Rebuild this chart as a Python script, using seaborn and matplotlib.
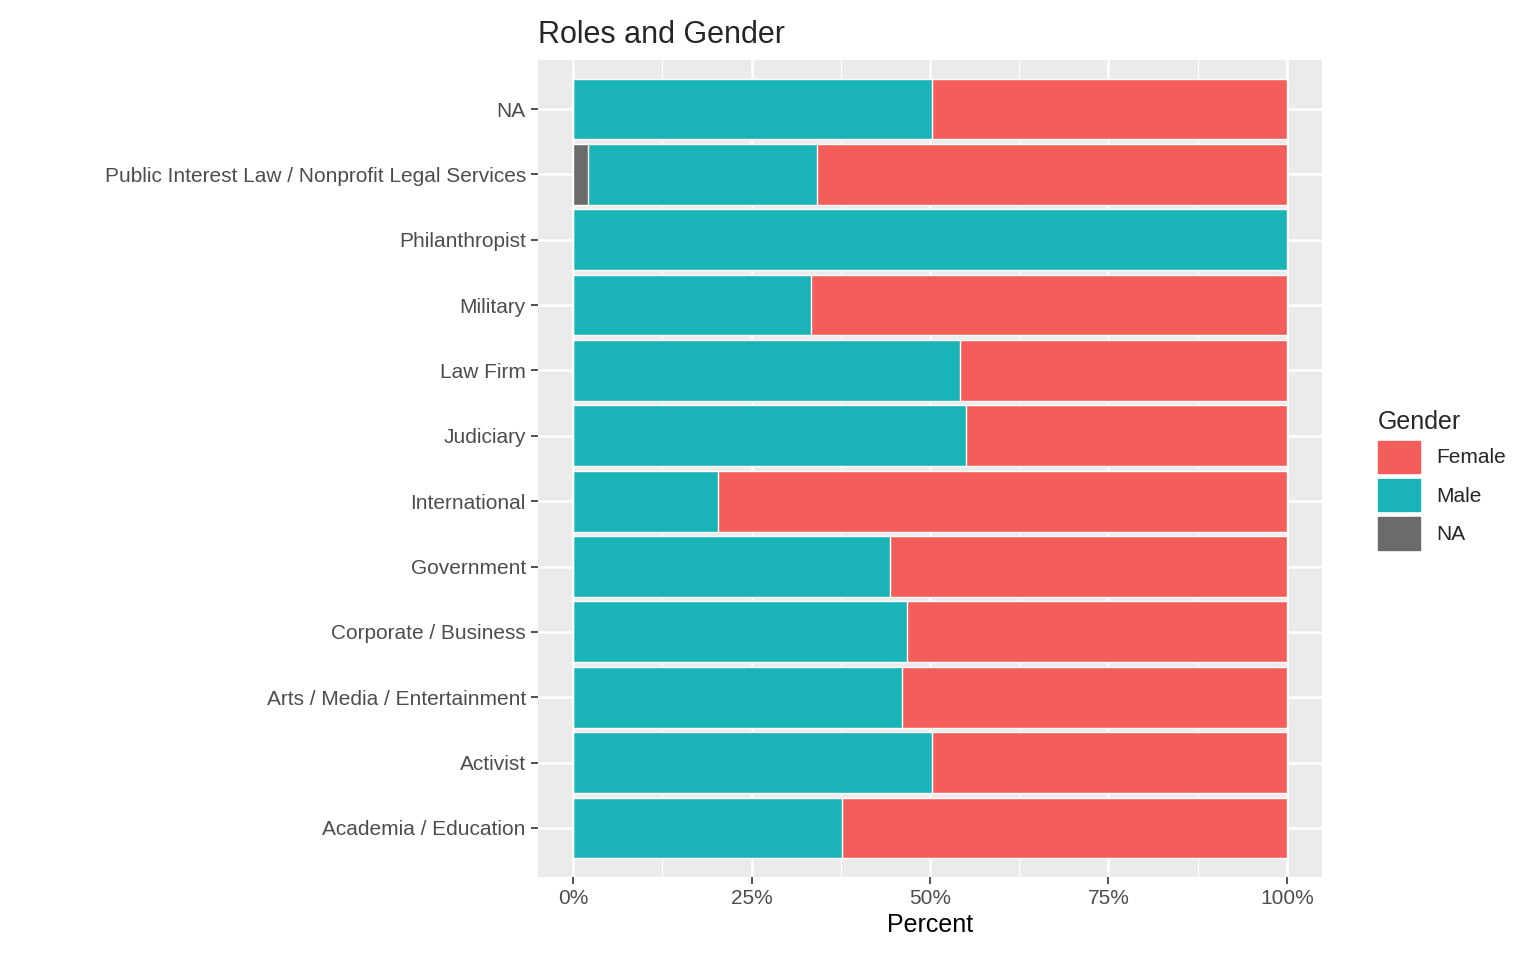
import matplotlib
matplotlib.use("Agg")
import matplotlib.pyplot as plt
import matplotlib.patches as mpatches
import pandas as pd
import seaborn as sns
from matplotlib.ticker import PercentFormatter, MultipleLocator

roles = ["NA", "Public Interest Law / Nonprofit Legal Services", "Philanthropist",
         "Military", "Law Firm", "Judiciary", "International", "Government",
         "Corporate / Business", "Arts / Media / Entertainment", "Activist",
         "Academia / Education"]
na_share = [0.0, 0.021, 0, 0, 0, 0, 0, 0, 0, 0, 0, 0]
male_share = [0.503, 0.321, 1.0, 0.333, 0.542, 0.551, 0.203, 0.444, 0.467, 0.460, 0.503, 0.377]

df = pd.DataFrame({"role": roles, "na": na_share, "male": male_share})
df["male_cum"] = df["na"] + df["male"]
df["total"] = 1.0

colors = {"Female": "#F8766D", "Male": "#00BFC4", "NA": "#6B6B6B"}
colors = {"Female": "#F35E5A", "Male": "#19B3B8", "NA": "#6B6B6B"}

sns.set_style("darkgrid", {"axes.facecolor": "#EBEBEB", "grid.color": "white"})
plt.rcParams["font.family"] = ["Liberation Sans", "DejaVu Sans"]

fig = plt.figure(figsize=(15.36, 9.6), dpi=100)
ax = fig.add_axes([0.35, 0.0865, 0.511, 0.851])
w = 0.93
sns.barplot(data=df, y="role", x="total", order=roles, color=colors["Female"],
            width=w, saturation=1, ax=ax, zorder=2)
sns.barplot(data=df, y="role", x="male_cum", order=roles, color=colors["Male"],
            width=w, saturation=1, ax=ax, zorder=2)
sns.barplot(data=df, y="role", x="na", order=roles, color=colors["NA"],
            width=w, saturation=1, ax=ax, zorder=2)

ax.set_xlim(-0.05, 1.05)
ax.set_ylim(len(roles) - 0.5 + 0.25, -0.5 - 0.25)
ax.xaxis.set_major_locator(MultipleLocator(0.25))
ax.xaxis.set_minor_locator(MultipleLocator(0.125))
ax.xaxis.set_major_formatter(PercentFormatter(1.0, decimals=0))
ax.grid(which="major", color="white", lw=1.8, zorder=0)
ax.grid(which="minor", axis="x", color="white", lw=0.8, zorder=0)
ax.set_axisbelow(True)
for s in ax.spines.values():
    s.set_visible(False)
ax.tick_params(axis="both", which="major", length=5, width=1.2, color="#333333",
               labelsize=15, labelcolor="#4D4D4D", left=True, bottom=True)
ax.tick_params(which="minor", length=0)
ax.set_xlabel("Percent", fontsize=18, color="black")
ax.set_ylabel("")
ax.set_title("Roles and Gender", fontsize=22, loc="left", x=-0.0, pad=12)
ax.title.set_position((-0.0, 1))

handles = [mpatches.Patch(color=colors[k], label=k) for k in ["Female", "Male", "NA"]]
leg = fig.legend(handles=handles, title="Gender", loc="center left",
                 bbox_to_anchor=(0.885, 0.5), frameon=False, fontsize=15,
                 title_fontsize=18, handlelength=2.0, handleheight=2.0,
                 labelspacing=0.3, alignment="left")
fig.savefig("out.png", dpi=100)
